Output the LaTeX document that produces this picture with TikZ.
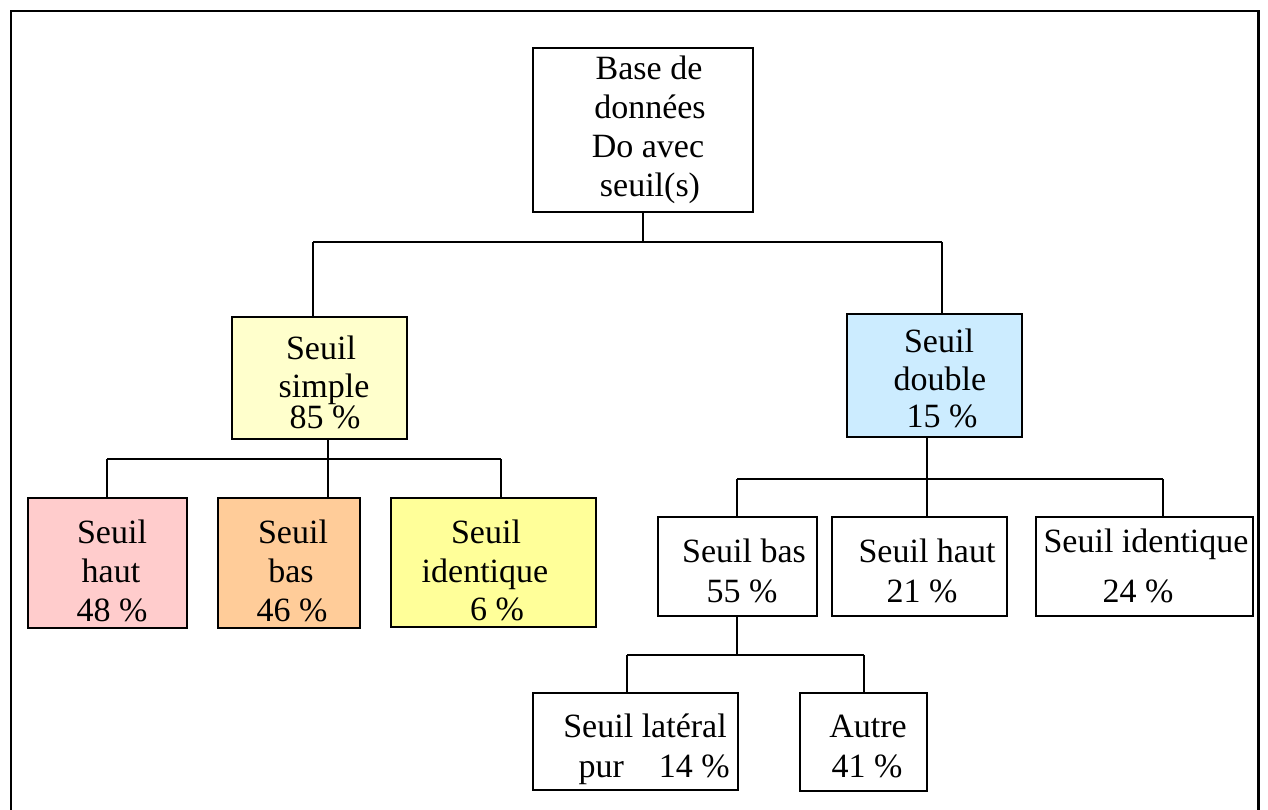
\documentclass[tikz,border=0pt]{standalone}
\usepackage{fontspec}
\setmainfont{Liberation Serif}
\definecolor{pinkfill}{HTML}{FFCCCC}
\definecolor{orangefill}{HTML}{FFCC99}
\definecolor{yellowfill}{HTML}{FFFF99}
\definecolor{paleyellowfill}{HTML}{FFFFCC}
\definecolor{bluefill}{HTML}{CCECFF}
\tikzset{
  box/.style={draw=black, line width=1.6pt, rectangle, inner sep=0pt},
  link/.style={draw=black, line width=1.5pt},
  frameline/.style={draw=black, line width=2.8pt},
  txt/.style={anchor=base, inner sep=0pt, font=\fontsize{34}{40}\selectfont},
}
\begin{document}
\begin{tikzpicture}[x=1pt, y=-1pt]
\useasboundingbox (0,0) rectangle (1268,810);
\fill[white] (0,0) rectangle (1268,810);

% outer frame, open at the bottom of the page
\draw[frameline] (11,840) -- (11,11) -- (1258.5,11) -- (1258.5,840);

% boxes
\node[box, minimum width=220pt, minimum height=164pt] (root) at (643,130) {};
\node[box, fill=paleyellowfill, minimum width=175pt, minimum height=122pt] (simple) at (319.5,378) {};
\node[box, fill=bluefill, minimum width=175pt, minimum height=123pt] (double) at (934.5,375.5) {};
\node[box, fill=pinkfill, minimum width=159pt, minimum height=130pt] (shaut) at (107.5,563) {};
\node[box, fill=orangefill, minimum width=142pt, minimum height=130pt] (sbas) at (289,563) {};
\node[box, fill=yellowfill, minimum width=205pt, minimum height=129pt] (sident) at (493.5,562.5) {};
\node[box, minimum width=159pt, minimum height=99pt] (dbas) at (737.5,566.5) {};
\node[box, minimum width=175pt, minimum height=99pt] (dhaut) at (919.5,566.5) {};
\node[box, minimum width=217pt, minimum height=99pt] (dident) at (1144.5,566.5) {};
\node[box, minimum width=205pt, minimum height=97pt] (lat) at (635.5,741.5) {};
\node[box, minimum width=127pt, minimum height=98pt] (autre) at (863.5,742) {};

% texts
\node[txt] (r1) at (649,80) {Base de};
\node[txt] (r2) at (650,119) {données};
\node[txt] (r3) at (648,158) {Do avec};
\node[txt] (r4) at (650,197) {seuil(s)};

\node[txt] (s1) at (321,359) {Seuil};
\node[txt] (s2) at (324,397) {simple};
\node[txt] (s3) at (325,428) {85 \%};

\node[txt] (d1) at (939,352) {Seuil};
\node[txt] (d2) at (940,390) {double};
\node[txt] (d3) at (942,427) {15 \%};

\node[txt] (sh1) at (112,543) {Seuil};
\node[txt] (sh2) at (111,582) {haut};
\node[txt] (sh3) at (112,621) {48 \%};

\node[txt] (sb1) at (293,543) {Seuil};
\node[txt] (sb2) at (291,582) {bas};
\node[txt] (sb3) at (292,621) {46 \%};

\node[txt] (si1) at (486,543) {Seuil};
\node[txt] (si2) at (485,582) {identique};
\node[txt] (si3) at (497,620) {6 \%};

\node[txt] (db1) at (744,562) {Seuil bas};
\node[txt] (db2) at (742,602) {55 \%};

\node[txt] (dh1) at (927,562) {Seuil haut};
\node[txt] (dh2) at (922,602) {21 \%};

\node[txt] (di1) at (1146,552) {Seuil identique};
\node[txt] (di2) at (1138,602) {24 \%};

\node[txt] (l1) at (645,737) {Seuil latéral};
\node[txt, anchor=base east] (l2) at (730,777) {pur\hspace{35pt}14 \%};

\node[txt] (a1) at (868,737) {Autre};
\node[txt] (a2) at (867,777) {41 \%};

% junction points of the tree
\coordinate (j0) at (643,242);
\coordinate (jL) at (313,242);
\coordinate (jR) at (942,242);
\coordinate (k0) at (328,459);
\coordinate (kL) at (107,459);
\coordinate (kR) at (501,459);
\coordinate (m0) at (927,479);
\coordinate (mL) at (737,479);
\coordinate (mR) at (1163,479);
\coordinate (n0) at (737,655);
\coordinate (nL) at (627,655);
\coordinate (nR) at (864,655);

% level 1
\draw[link] (root.south) -- (j0);
\draw[link] (jL) -- (jR);
\draw[link] (jL) -- (jL |- simple.north);
\draw[link] (jR) -- (jR |- double.north);

% simple threshold branch
\draw[link] (k0 |- simple.south) -- (k0);
\draw[link] (kL) -- (kR);
\draw[link] (kL) -- (kL |- shaut.north);
\draw[link] (k0) -- (k0 |- sbas.north);
\draw[link] (kR) -- (kR |- sident.north);

% double threshold branch
\draw[link] (m0 |- double.south) -- (m0);
\draw[link] (mL) -- (mR);
\draw[link] (mL) -- (mL |- dbas.north);
\draw[link] (m0) -- (m0 |- dhaut.north);
\draw[link] (mR) -- (mR |- dident.north);

% low threshold sub-branch
\draw[link] (n0 |- dbas.south) -- (n0);
\draw[link] (nL) -- (nR);
\draw[link] (nL) -- (nL |- lat.north);
\draw[link] (nR) -- (nR |- autre.north);
\end{tikzpicture}
\end{document}
